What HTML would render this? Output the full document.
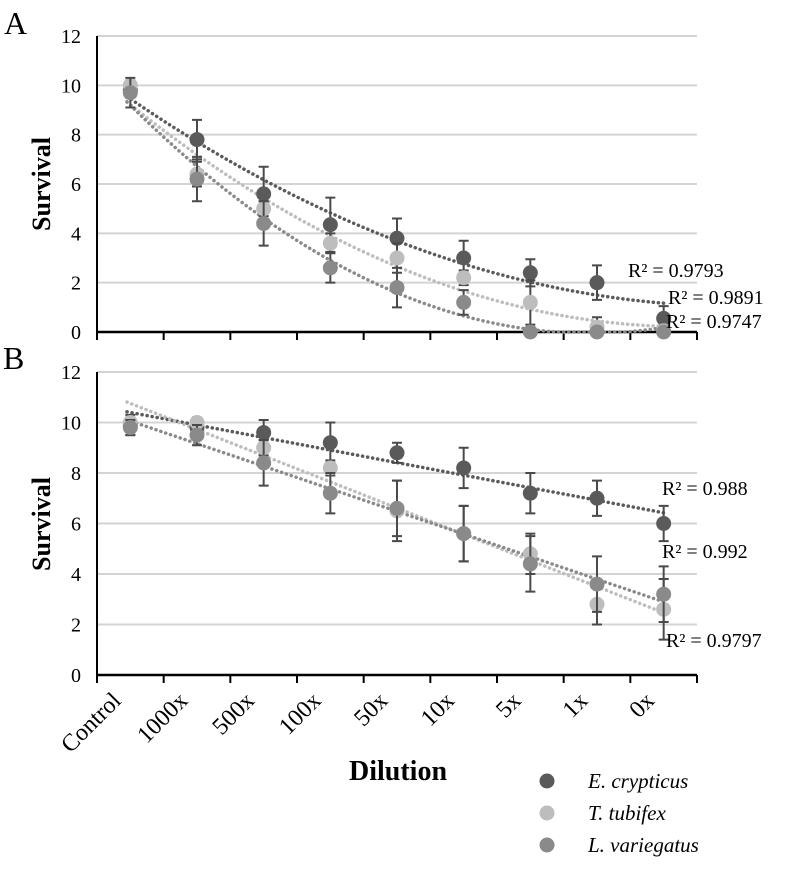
<!DOCTYPE html>
<html><head><meta charset="utf-8">
<style>
body{margin:0;background:#fff;}
svg{display:block;font-family:"Liberation Serif",serif;}
</style></head>
<body>
<svg id="chart" width="787" height="885" viewBox="0 0 787 885" xmlns="http://www.w3.org/2000/svg">
<text x="4" y="34" font-size="32">A</text>
<text x="3" y="369" font-size="32">B</text>
<text transform="translate(50,184) rotate(-90)" text-anchor="middle" font-size="26" font-weight="bold">Survival</text>
<text transform="translate(50,524) rotate(-90)" text-anchor="middle" font-size="26" font-weight="bold">Survival</text>
<text x="398" y="780" text-anchor="middle" font-size="28" font-weight="bold">Dilution</text>
<g id="legend"></g>
</svg>
<script>
const categories=["Control","1000x","500x","100x","50x","10x","5x","1x","0x"];
const seriesNames=["E. crypticus","T. tubifex","L. variegatus"];
const colors=["#5a5a5a","#bdbdbd","#8a8a8a"];
const aE=[9.8,7.8,5.6,4.35,3.8,3.0,2.4,2.0,0.55];
const aT=[10.0,6.4,5.0,3.6,3.0,2.2,1.2,0.2,0.05];
const aL=[9.7,6.2,4.4,2.6,1.8,1.2,0.0,0.0,0.0];
const aEerr=[0.3,0.8,1.1,1.1,0.8,0.7,0.55,0.7,0.5];
const aTerr=[0.2,0.5,0.3,0.4,0.6,0.3,0.9,0.4,0.2];
const aLerr=[0.6,0.9,0.9,0.6,0.8,0.5,0.1,0.1,0.1];
const bE=[9.9,9.8,9.6,9.2,8.8,8.2,7.2,7.0,6.0];
const bT=[10.0,10.0,9.0,8.2,6.5,5.6,4.8,2.8,2.6];
const bL=[9.8,9.5,8.4,7.2,6.6,5.6,4.4,3.6,3.2];
const bEerr=[0.4,0.3,0.5,0.8,0.4,0.8,0.8,0.7,0.7];
const bTerr=[0.2,0.2,0.3,0.3,1.2,1.1,0.8,0.8,1.2];
const bLerr=[0.3,0.4,0.9,0.8,1.1,1.1,1.1,1.1,1.1];
const yTicks=[0,2,4,6,8,10,12];
const r2A=["R² = 0.9793","R² = 0.9891","R² = 0.9747"];
const r2B=["R² = 0.988","R² = 0.992","R² = 0.9797"];

const NS="http://www.w3.org/2000/svg";
const svg=document.getElementById('chart');
function mk(tag,attrs,parent){const e=document.createElementNS(NS,tag);for(const k in attrs)e.setAttribute(k,attrs[k]);(parent||svg).appendChild(e);return e;}
const x0=97,x1=697,step=(x1-x0)/categories.length;
function xs(i){return x0+step*(i+0.5);}
function fit(ys,deg){
  const n=ys.length,m=deg+1;const A=[];for(let r=0;r<m;r++){A.push(new Array(m+1).fill(0));}
  for(let i=0;i<n;i++){for(let r=0;r<m;r++){for(let c=0;c<m;c++)A[r][c]+=Math.pow(i,r+c);A[r][m]+=ys[i]*Math.pow(i,r);}}
  for(let c=0;c<m;c++){let p=c;for(let r=c+1;r<m;r++)if(Math.abs(A[r][c])>Math.abs(A[p][c]))p=r;[A[c],A[p]]=[A[p],A[c]];
    for(let r=0;r<m;r++){if(r===c)continue;const f=A[r][c]/A[c][c];for(let k=c;k<=m;k++)A[r][k]-=f*A[c][k];}}
  const co=[];for(let r=0;r<m;r++)co.push(A[r][m]/A[r][r]);
  return t=>co.reduce((s,c,k)=>s+c*Math.pow(t,k),0);
}
function panel(name,yTop,yBot,data,errs,deg,r2,r2pos,tmin){
  const ys=v=>yBot-(v/12)*(yBot-yTop);
  const g=mk('g',{});
  
  
  yTicks.forEach(t=>{
    if(t>0){const l=mk('line',{x1:x0,x2:x1,y1:ys(t),y2:ys(t),stroke:'#d4d4d4','stroke-width':2},g);
    
    }
    const tx=mk('text',{x:x0-16,y:ys(t)+7,'text-anchor':'end','font-size':20},g);tx.textContent=t;
    
    
  });
  const ax=mk('line',{x1:x0,x2:x0,y1:yTop,y2:yBot,stroke:'#000','stroke-width':2},g);
  
  
  const bx=mk('line',{x1:x0,x2:x1,y1:yBot,y2:yBot,stroke:'#000','stroke-width':2.5},g);
  
  
  for(let i=0;i<=categories.length;i++){const tk=mk('line',{x1:x0+step*i,x2:x0+step*i,y1:yBot,y2:yBot+8,stroke:'#000','stroke-width':2},g);
    
    }
  data.forEach((d,s)=>{
    const f=fit(d,deg);let pts=[];
    for(let t=tmin;t<=8.05;t+=0.05){let v=f(t);if(deg==2&&v<0)v=0;pts.push(xs(t)+','+ys(v));}
    const pl=mk('polyline',{points:pts.join(' '),fill:'none',stroke:colors[s],'stroke-width':3.5,'stroke-dasharray':'0.1 5','stroke-linecap':'round'},g);
    
    
  });
  data.forEach((d,s)=>{
    d.forEach((v,i)=>{
      const e=errs[s][i],x=xs(i);
      const eb=mk('path',{d:`M${x},${ys(v+e)}V${ys(Math.max(0,v-e))}M${x-5},${ys(v+e)}h10M${x-5},${ys(Math.max(0,v-e))}h10`,stroke:'#4a4a4a','stroke-width':2,fill:'none'},g);
      
      
      const c=mk('circle',{cx:x,cy:ys(v),r:7.5,fill:colors[s]},g);
      
      
    });
  });
  r2.forEach((t,k)=>{const tx=mk('text',{x:r2pos[k][0],y:r2pos[k][1],'font-size':20},g);tx.textContent=t;
    
    });
}
panel('panel-a',36,332,[aE,aT,aL],[aEerr,aTerr,aLerr],2,r2A,[[628,277],[668,304],[666,328]],-0.05);
panel('panel-b',372,675,[bE,bT,bL],[bEerr,bTerr,bLerr],1,r2B,[[662,495],[662,558],[666,647]],-0.05);
categories.forEach((c,i)=>{
  const x=xs(i)-8;
  const tx=mk('text',{transform:`translate(${x},${702}) rotate(-45)`,'text-anchor':'end','font-size':24});
  tx.textContent=c;
  
  
});
const lg=document.getElementById('legend');
seriesNames.forEach((n,s)=>{
  const y=781+s*32;
  const c=mk('circle',{cx:547,cy:y,r:7.5,fill:colors[s]},lg);
  
  
  const t=mk('text',{x:588,y:y+7,'font-size':21,'font-style':'italic'},lg);t.textContent=n;
  
  
});
</script>
</body></html>
